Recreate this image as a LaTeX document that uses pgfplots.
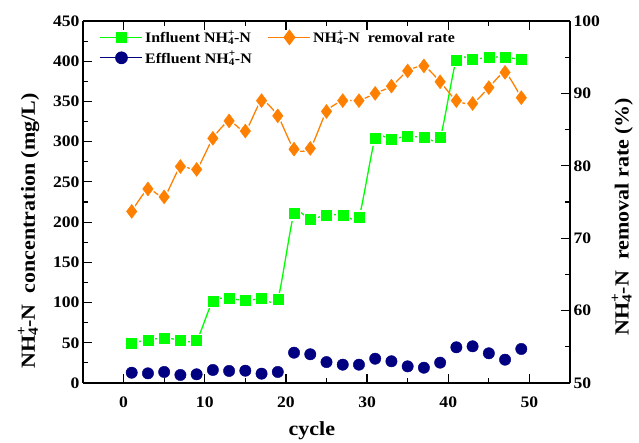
\documentclass[border=0pt]{standalone}
\usepackage{pgfplots}
\pgfplotsset{compat=1.18}
\usepackage{fontspec}
\setmainfont{Liberation Serif}[FakeStretch=1.1]
\definecolor{infl}{RGB}{0,255,0}
\definecolor{effl}{RGB}{0,0,128}
\definecolor{remr}{RGB}{255,128,0}
\newcommand{\nh}{NH\rlap{\raisebox{0.15ex}{\textsuperscript{+}}}\textsubscript{4}-N}
\pgfplotstableread{
x infl effl rem
1 50 12.8 73.7
3 53.5 12 76.8
5 56 13.7 75.7
7 53.5 10 79.9
9 53 10.8 79.5
11 102 16.2 83.8
13 105 15 86.2
15 102.4 15.3 84.8
17 105 11.6 89.0
19 104 13.7 86.9
21 210.6 37.7 82.3
23 203.6 35.7 82.4
25 209 26 87.5
27 209 22.8 89.0
29 206.5 22.8 89.0
31 304 30.2 90.0
33 303 27 91.0
35 307 20.7 93.1
37 305 19 93.8
39 305 25.3 91.6
41 401.7 44.4 89.0
43 402 45.6 88.6
45 405 36.9 90.8
47 405 29 92.9
49 402 42.3 89.4
}\data
\pgfplotsset{
  every axis/.append style={
    scale only axis, width=487pt, height=362pt,
    xmin=-5, xmax=55,
    tick label style={font=\bfseries\fontsize{16}{18}\selectfont},
    /pgf/number format/assume math mode=true,
    label style={font=\bfseries\fontsize{20}{22}\selectfont},
    major tick length=9pt, minor tick length=5pt,
    tick style={black, line width=1.2pt},
    axis line style={line width=1.5pt},
  },
  leg/.style={legend image code/.code={
    \draw[mark repeat=2,mark phase=2] plot coordinates {(0pt,0pt) (21pt,0pt) (42pt,0pt)};}}
}
\begin{document}
\begin{tikzpicture}
\begin{axis}[
  ymin=0, ymax=450,
  ytick={0,50,...,450}, minor y tick num=1,
  xtick={0,10,...,50}, minor x tick num=1,
  axis y line*=left,
  xtick pos=both,
  tick align=inside,
  xlabel={cycle},
  xlabel style={at={(ticklabel cs:0.47)}, yshift=-7pt},
  xticklabel style={yshift=-10pt},
  ylabel={\nh\ \ concentration (mg/L)},
  ylabel style={at={(ticklabel cs:0.42)}, yshift=7pt},
  clip=false,
]
\coordinate (bl) at (rel axis cs:0,0);
\coordinate (tr) at (rel axis cs:1,1);
% influent
\addplot[infl, line width=1.3pt, smooth, tension=0.35] table[x=x,y=infl]{\data};
\addplot[white, only marks, mark=square*, mark size=6.5pt] table[x=x,y=infl]{\data};
\addplot[infl, only marks, mark=square*, mark size=5pt] table[x=x,y=infl]{\data};
% effluent (its connecting line is hidden behind the marker gaps in the original)
\addplot[effl, only marks, mark=*, mark size=5.7pt] table[x=x,y=effl]{\data};
\end{axis}
\begin{axis}[
  ymin=50, ymax=100,
  ytick={50,60,...,100}, minor y tick num=1,
  axis y line*=right,
  axis x line=none,
  tick align=inside,
  ylabel={\nh\ \ removal rate (\%)},
  ylabel style={at={(ticklabel cs:0.46)}, yshift=-5pt},
  legend columns=2,
  legend style={draw=none, fill=none, at={(0.028,0.985)}, anchor=north west,
    font=\bfseries\fontsize{14.5}{16}\selectfont,
    /tikz/every even column/.append style={column sep=14pt}, row sep=3pt},
  legend cell align=left,
  leg,
]
\addlegendimage{infl, line width=1.3pt, mark=square*, mark size=5pt}
\addlegendentry{Influent \nh}
\addplot[remr, line width=1.3pt, smooth, tension=0.35, forget plot] table[x=x,y=rem]{\data};
\addplot[white, only marks, mark=diamond*, mark size=9.5pt, forget plot] table[x=x,y=rem]{\data};
\addplot[remr, only marks, mark=diamond*, mark size=7pt, forget plot] table[x=x,y=rem]{\data};
\addlegendimage{remr, line width=1.3pt, mark=diamond*, mark size=7pt}
\addlegendentry{\nh\ \ removal rate}
\addlegendimage{effl, line width=1.3pt, mark=*, mark size=5.7pt}
\addlegendentry{Effluent \nh}
\end{axis}
\pgfresetboundingbox
\path ([xshift=-83pt,yshift=-60pt]bl) rectangle ([xshift=69pt,yshift=21pt]tr);
\end{tikzpicture}
\end{document}
